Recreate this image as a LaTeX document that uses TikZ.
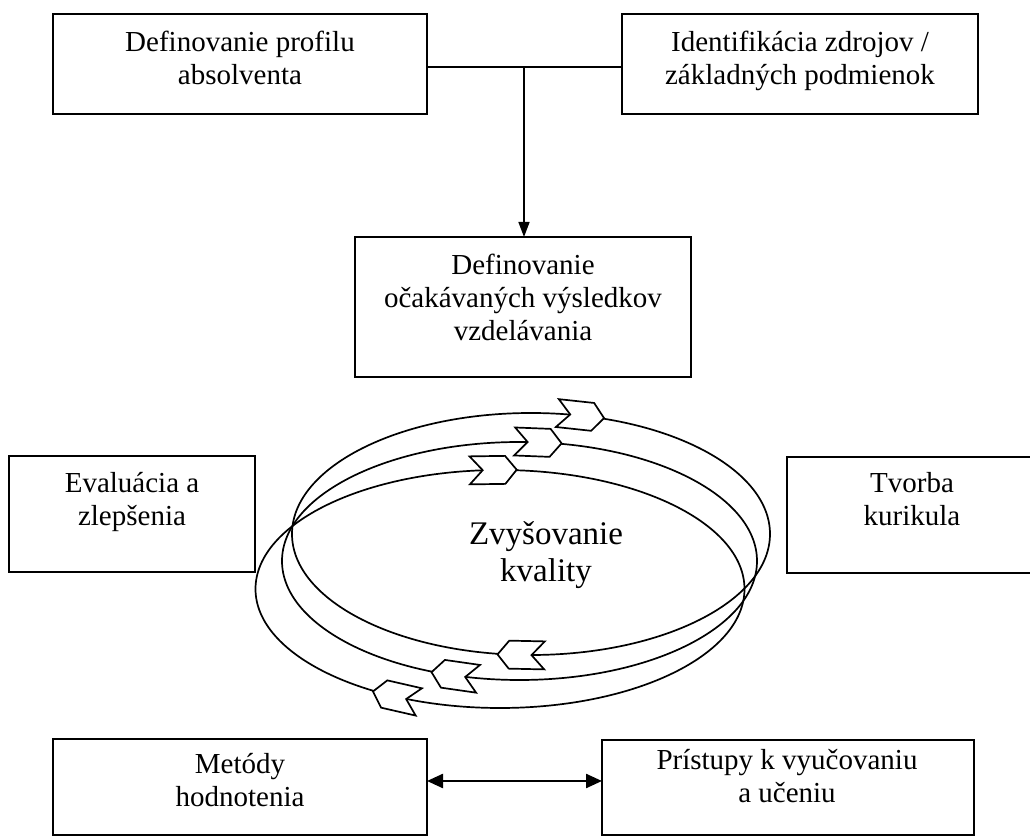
\documentclass[tikz,border=0pt]{standalone}
\usepackage{fontspec}
\setmainfont{Liberation Serif}
\usetikzlibrary{arrows.meta}
\begin{document}
\begin{tikzpicture}[x=0.5pt,y=-0.5pt,
  box/.style={draw, line width=1pt, inner sep=0pt, outer sep=0pt, anchor=north west},
  wh/.style 2 args={minimum width=#1*0.5pt, minimum height=#2*0.5pt},
  lbl/.style={anchor=base, inner sep=0pt, font=\fontsize{14.5pt}{16.5pt}\selectfont},
  big/.style={anchor=base, inner sep=0pt, font=\fontsize{16.5pt}{18.5pt}\selectfont},
  conn/.style={line width=0.75pt},
  loopline/.style={line width=0.85pt},
  chev/.style={draw, fill=white, line width=0.85pt, line join=miter},
  chevron/.pic={\draw[chev] (-23.5,-14) -- (12,-14) -- (23.5,0) -- (12,14) -- (-23.5,14) -- (-10.5,0) -- cycle;}
]
\useasboundingbox (0,0) rectangle (1030,839);
\clip (0,0) rectangle (1030,839);

% boxes
\node[box, wh={374}{100}] (b1) at (53,14) {};
\node[box, wh={356}{100}] (b2) at (622,14) {};
\node[box, wh={336}{140}] (b3) at (355,237) {};
\node[box, wh={246}{116}] (b4) at (9,456) {};
\node[box, wh={250}{116}] (b5) at (787,457) {};
\node[box, wh={374}{96}] (b6) at (53,739) {};
\node[box, wh={372}{95}] (b7) at (602,740) {};

% texts
\node[lbl] (t1) at (240,52) {\begin{tabular}[t]{@{}c@{}}Definovanie profilu\\absolventa\end{tabular}};
\node[lbl] (t2) at (800,52) {\begin{tabular}[t]{@{}c@{}}Identifikácia zdrojov /\\základných podmienok\end{tabular}};
\node[lbl] (t3) at (523,275) {\begin{tabular}[t]{@{}c@{}}Definovanie\\očakávaných výsledkov\\vzdelávania\end{tabular}};
\node[lbl] (t4) at (132,493) {\begin{tabular}[t]{@{}c@{}}Evaluácia a\\zlepšenia\end{tabular}};
\node[lbl] (t5) at (912,493) {\begin{tabular}[t]{@{}c@{}}Tvorba\\kurikula\end{tabular}};
\node[lbl] (t6) at (240,774) {\begin{tabular}[t]{@{}c@{}}Metódy\\hodnotenia\end{tabular}};
\node[lbl] (t7) at (787,770) {\begin{tabular}[t]{@{}c@{}}Prístupy k vyučovaniu\\a učeniu\end{tabular}};

% connectors
\coordinate (j) at (524,67);
\draw[conn] (b1.east |- j) -- (b2.west |- j);
\draw[conn,-{Triangle[length=7.5pt,width=5.5pt]}] (j) -- (j |- b3.north);
\coordinate (d) at (515,781);
\draw[line width=1.2pt,{Triangle[length=8pt,width=7pt]}-{Triangle[length=8pt,width=7pt]}] (b6.east |- d) -- (b7.west |- d);

% quality loops
\draw[loopline] (531,534) ellipse [x radius=239, y radius=121];
\draw[loopline] (519.5,561) ellipse [x radius=237.5, y radius=119];
\draw[loopline] (500,589) ellipse [x radius=244.5, y radius=119];

\pic[rotate=-6.15] at (580.7,415.6) {chevron};
\pic[rotate=-2.25] at (538.1,442.4) {chevron};
\pic[rotate=0.78] at (493.2,470.05) {chevron};
\pic[rotate=178.8] at (521,654.9) {chevron};
\pic[rotate=171.9] at (454.8,675.5) {chevron};
\pic[rotate=167.1] at (395.9,696.7) {chevron};

\node[big] (tz) at (546,545) {\begin{tabular}[t]{@{}c@{}}Zvyšovanie\\kvality\end{tabular}};
\end{tikzpicture}
\end{document}
